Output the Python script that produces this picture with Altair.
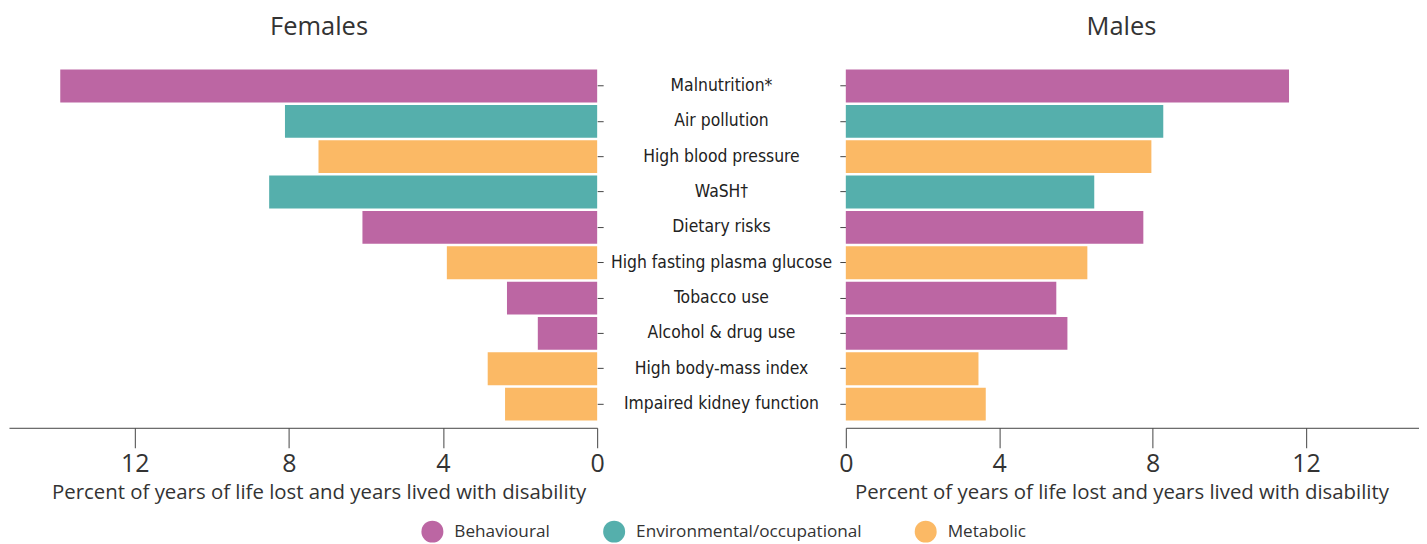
import altair as alt
import pandas as pd

risks = ["Malnutrition*", "Air pollution", "High blood pressure", "WaSH\u2020",
         "Dietary risks", "High fasting plasma glucose", "Tobacco use",
         "Alcohol & drug use", "High body-mass index", "Impaired kidney function"]
groups = ["Behavioural", "Environmental/occupational", "Metabolic",
          "Environmental/occupational", "Behavioural", "Metabolic",
          "Behavioural", "Behavioural", "Metabolic", "Metabolic"]
females = [13.93, 8.10, 7.23, 8.51, 6.09, 3.90, 2.34, 1.54, 2.84, 2.39]
males = [11.56, 8.28, 7.97, 6.48, 7.76, 6.30, 5.49, 5.78, 3.46, 3.65]
ticks = [0, 4, 8, 12]
legend_order = ["Behavioural", "Environmental/occupational", "Metabolic"]
colors = ["#BC66A3", "#55AFAC", "#FBB965"]

df = pd.DataFrame({"risk": risks, "group": groups, "female": females, "male": males})

FONT = "Open Sans"
LABEL_FONT = "DejaVu Sans Condensed"
TXT = "#333333"
AXIS_TITLE = "Percent of years of life lost and years lived with disability"

yscale = alt.Scale(domain=risks, paddingInner=0.07, paddingOuter=0.035)
color = alt.Color("group:N", scale=alt.Scale(domain=legend_order, range=colors),
                  legend=alt.Legend(title=None, orient="none", direction="horizontal",
                                    legendX=413, legendY=453, symbolType="circle",
                                    symbolSize=484, symbolStrokeWidth=0,
                                    labelFontSize=17.2, labelFont=FONT, labelColor=TXT,
                                    labelLimit=0, labelOffset=11, columnPadding=53))

H = 354

def xaxis(title_x):
    return alt.Axis(values=ticks, title=AXIS_TITLE, titleX=title_x, titleY=55,
                    titleFontSize=20.4, titleFont=FONT, titleFontWeight="normal",
                    titleColor=TXT, labelFontSize=25, labelFont=FONT, labelColor=TXT,
                    labelPadding=4, tickSize=20, tickColor="#444", domainColor="#444",
                    grid=False, offset=6, labelFlush=False)

left = alt.Chart(df).mark_bar().encode(
    x=alt.X("female:Q", scale=alt.Scale(domain=[0, 15.26], reverse=True, nice=False),
            axis=xaxis(310)),
    y=alt.Y("risk:N", scale=yscale, sort=risks,
            axis=alt.Axis(orient="right", labels=False, title=None, domain=False,
                          tickSize=6, tickColor="#444")),
    color=color,
).properties(width=589, height=H,
             title=alt.TitleParams("Females", fontSize=25.5, font=FONT, fontWeight="normal",
                                   color=TXT, dx=16, offset=28))

mid = alt.Chart(df).mark_text(font=LABEL_FONT, fontSize=17.4, color="#222222").encode(
    y=alt.Y("risk:N", scale=yscale, sort=risks, axis=None),
    x=alt.value(116.5),
    text="risk:N",
).properties(width=233, height=H)

right = alt.Chart(df).mark_bar().encode(
    x=alt.X("male:Q", scale=alt.Scale(domain=[0, 14.95], nice=False),
            axis=xaxis(276)),
    y=alt.Y("risk:N", scale=yscale, sort=risks,
            axis=alt.Axis(orient="left", labels=False, title=None, domain=False,
                          tickSize=6, tickColor="#444")),
    color=color,
).properties(width=574, height=H,
             title=alt.TitleParams("Males", fontSize=25.5, font=FONT, fontWeight="normal",
                                   color=TXT, dx=-11, offset=28))

chart = alt.hconcat(left, mid, right, spacing=0).properties(
    padding={"left": 1, "top": 6, "right": 0, "bottom": 0}
).configure_view(stroke=None)

chart.save("out.html", embed_options={"renderer": "svg", "actions": False})
